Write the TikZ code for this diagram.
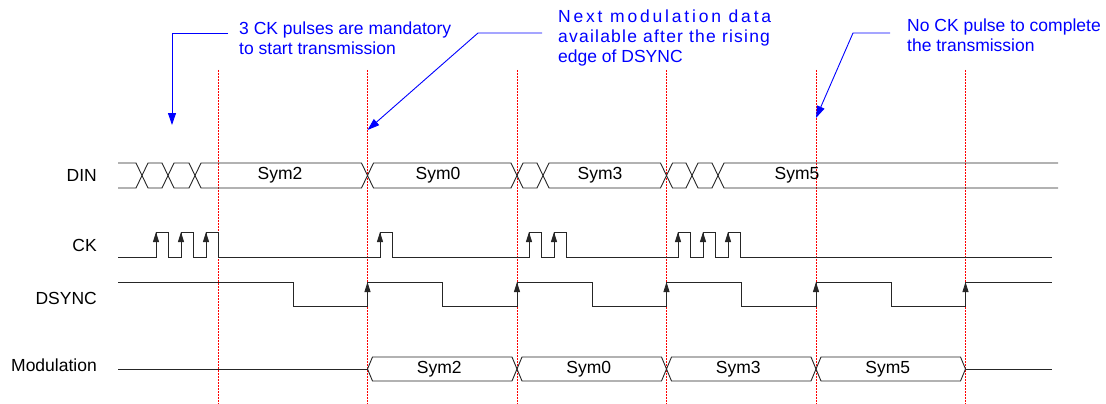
\documentclass[tikz,border=0pt]{standalone}
\usepackage{fontspec}
\setmainfont{Liberation Sans}
\usetikzlibrary{arrows.meta}

\begin{document}
\begin{tikzpicture}[x=1pt,y=-1pt,every node/.style={font=\fontsize{17.5}{20}\selectfont}]
            % DIN / CK / DSYNC timing against the modulation output
            \tikzstyle{wave} = [draw=black!85, line width=0.9pt];
            \tikzstyle{redline} = [draw=red, line width=0.5pt, dash pattern=on 2pt off 1pt];
            \tikzstyle{edge} = [wave, -{Triangle[length=10pt,width=6pt]}];
            \tikzstyle{note} = [draw=blue, line width=0.9pt, -{Triangle[length=12pt,width=8pt]}];
            \tikzstyle{notetext} = [text=blue, anchor=west, align=left, inner sep=0pt];
            \tikzstyle{signal} = [anchor=east, inner sep=0pt];

            \useasboundingbox (0,0) rectangle (1106,404);

            \foreach \i in {0,...,5}
                \draw[redline] (218+149.5*\i,70) -- (218+149.5*\i,404);

            \node[signal] (din) at (97,175) {DIN};
            \node[signal] (ck) at (97,245) {CK};
            \node[signal] (dsync) at (97,298) {DSYNC};
            \node[signal] (mod) at (97,365) {Modulation};

            \draw[wave] (118,163) -- (136,163) -- (142,175.5) -- (136,188) -- (118,188);
            \foreach \a/\b in {142/168,168/195,195/367.5,367.5/517,517/543,543/666.5,666.5/692,692/718}
                \draw[wave] (\a,175.5) -- (\a+6,163) -- (\b-6,163) -- (\b,175.5) -- (\b-6,188) -- (\a+6,188) -- cycle;
            \draw[wave] (1058,163) -- (724,163) -- (718,175.5) -- (724,188) -- (1058,188);
            \node (dinSym2) at (280,175.5) {Sym2};
            \node (dinSym0) at (438,175.5) {Sym0};
            \node (dinSym3) at (600,175.5) {Sym3};
            \node (dinSym5) at (797,175.5) {Sym5};

            \draw[wave] (118,257) \foreach \r in {156,181,206,380,529,554,678,703,728}
                { -- (\r,257) -- (\r,232) -- (\r+12,232) -- (\r+12,257) } -- (1052,257);
            \foreach \r in {156,181,206,380,529,554,678,703,728}
                \draw[edge] (\r,257) -- (\r,232);

            \draw[wave] (118,282) \foreach \f/\r in {293/367.5,442/517,592/666.5,741/816,891/965.5}
                { -- (\f,282) -- (\f,306) -- (\r,306) -- (\r,282) } -- (1052,282);
            \foreach \r in {367.5,517,666.5,816,965.5}
                \draw[edge] (\r,306) -- (\r,282);

            \draw[wave] (118,369) -- (367.5,369);
            \foreach \a/\b/\s in {367.5/517/Sym2,517/666.5/Sym0,666.5/816/Sym3,816/965.5/Sym5} {
                \draw[wave] (\a,369) -- (\a+5,357) -- (\b-5,357) -- (\b,369) -- (\b-5,381) -- (\a+5,381) -- cycle;
                \node (mod\s) at ({(\a+\b)/2-3},369) {\s};
            }
            \draw[wave] (965.5,369) -- (1052,369);

            \node[notetext] (note1) at (239,38) {3 CK pulses are mandatory\\to start transmission};
            \node[notetext] (note2) at (558,38) {{\addfontfeatures{LetterSpace=16}Next modulation data}\\
                {\addfontfeatures{LetterSpace=7}available after the rising}\\edge of DSYNC};
            \node[notetext] (note3) at (907,35) {No CK pulse to complete\\the transmission};

            \coordinate (tip1) at (172,125);
            \coordinate (tip2) at (367.5,130);
            \coordinate (tip3) at (816,118);
            \draw[note] (note1.west) ++(-11,-5) -| (tip1);
            \draw[note] (note2.west) ++(-16,-5) -- ++(-64,0) -- (tip2);
            \draw[note] (note3.west) ++(-17,-2) -- ++(-37,0) -- (tip3);
\end{tikzpicture}
\end{document}
